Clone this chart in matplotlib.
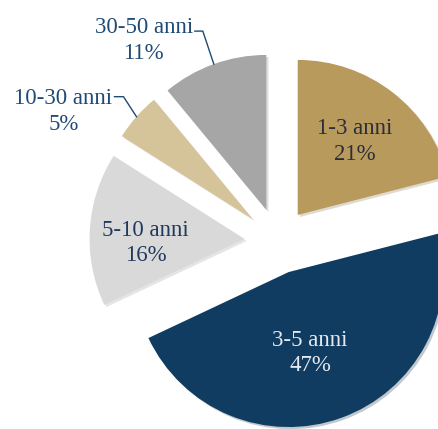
import numpy as np
import matplotlib
matplotlib.use("Agg")
import matplotlib.pyplot as plt

# Data
labels = ["1-3 anni", "3-5 anni", "5-10 anni", "10-30 anni", "30-50 anni"]
shares = [21, 47, 16, 5, 11]
colors = ["#B89A5C", "#0F3C60", "#D9D9D9", "#D5C39A", "#A6A6A6"]
text_colors = ["#2A2E3A", "#E6E9EE", "#1F3A5C", "#1F4A75", "#1F4A75"]

plt.rcParams["font.family"] = ["Liberation Serif", "DejaVu Serif"]

W, H = 438, 429
fig = plt.figure(figsize=(W / 100, H / 100), dpi=100)
ax = fig.add_axes([0, 0, 1, 1])

# pie geometry in pixel-like data units (y up)
center = (277.5, H - 241)
radius = 155
gap = 33

wedges, _ = ax.pie(shares, colors=colors, startangle=90, counterclock=False,
                   center=center, radius=radius, explode=[gap] * len(shares),
                   frame=True, wedgeprops=dict(linewidth=0),
                   shadow=dict(ox=1.5, oy=-1.5, shade=0.3, alpha=0.25))

ax.set_xlim(0, W)
ax.set_ylim(0, H)
ax.set_aspect("equal")
ax.axis("off")

# inside labels: (fraction of radius, angle tweak in degrees)
inside = {0: (0.60, 0), 1: (0.54, -5), 2: (0.64, 6)}
# outside labels: knee offset, line end offset, text centre offset (from arc point)
outside = {3: ((-13, 20), (-22, 20), (-73, 5)),
           4: ((-11, 33), (-19, 33), (-70, 24))}
fs = 16.5
for i, w in enumerate(wedges):
    mid = (w.theta1 + w.theta2) / 2
    cx, cy = w.center
    txt = f"{labels[i]}\n{shares[i]}%"
    if i in inside:
        frac, tweak = inside[i]
        a = np.deg2rad(mid + tweak)
        d = frac * radius
        ax.text(cx + d * np.cos(a), cy + d * np.sin(a), txt, ha="center",
                va="center", fontsize=fs, color=text_colors[i], linespacing=1.3)
    else:
        a = np.deg2rad(mid)
        px, py = cx + radius * np.cos(a), cy + radius * np.sin(a)
        knee, end, toff = outside[i]
        ax.plot([px, px + knee[0], px + end[0]], [py, py + knee[1], py + end[1]],
                color="#1F4A75", lw=1.0)
        ax.text(px + toff[0], py + toff[1], txt, ha="center", va="center",
                fontsize=fs, color=text_colors[i], linespacing=1.3)

fig.savefig("out.png", dpi=100, facecolor="white")
